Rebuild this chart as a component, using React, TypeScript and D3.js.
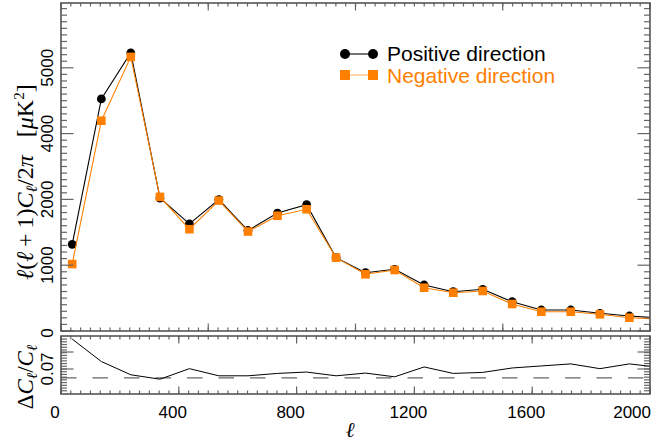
import React from "react";
import * as d3 from "d3";

// multipole bin centres (last one falls just outside the frame and is clipped)
const ell = [38, 137, 237, 336, 436, 536, 635, 735, 834, 934, 1034, 1133, 1233, 1332, 1432, 1532, 1631, 1731, 1830, 1930, 2030];
const positiveDir = [1318, 4527, 5228, 2042, 1629, 1997, 1527, 1792, 1920, 1115, 886, 938, 699, 597, 634, 445, 319, 319, 269, 228, 198];
const negativeDir = [1017, 4196, 5166, 2076, 1547, 1982, 1512, 1751, 1850, 1115, 862, 927, 658, 582, 608, 410, 293, 293, 254, 202, 182];
const deltaRatio = [0.0788, 0.0722, 0.0683, 0.0670, 0.0701, 0.0680, 0.0680, 0.0687, 0.0691, 0.0680, 0.0688, 0.0677, 0.0706, 0.0687, 0.0690, 0.0703, 0.0709, 0.0715, 0.0701, 0.0715, 0.0705];

const xTickValues = [0, 400, 800, 1200, 1600, 2000];
const xTickLabels = ["0", "400", "800", "1200", "1600", "2000"];
const yTickValues = [0, 1000, 2000, 4000, 5000];
const yTickLabels = ["0", "1000", "2000", "4000", "5000"];
const ratioTickValues = [0.07];
const ratioTickLabels = ["0.07"];
const ratioMajorTicks = [0.07, 0.075];
const ratioReference = 0.0674;
const seriesNames = ["Positive direction", "Negative direction"];

const PL = 61, PR = 650;
const T1 = 3, B1 = 331;
const T2 = 336, B2 = 394;
const MAJ = 65.8;
const FRAME = "#555";
const TICK = "#666";
const ORANGE = "#ff8000";

export default function App() {
  const x = d3.scaleLinear().domain([0, 2000]).range([PL, PR]);
  const yDom = [0, 1000, 2000, 4000, 5000, 6000];
  const y = d3.scaleLinear().domain(yDom).range(yDom.map((_, i) => B1 - i * MAJ));
  const yr = d3.scaleLinear().domain([0.062647, 0.079706]).range([B2, T2]);

  const pos = ell.map((l, i) => ({ l, v: positiveDir[i] }));
  const neg = ell.map((l, i) => ({ l, v: negativeDir[i] }));
  const rat = ell.map((l, i) => ({ l, v: deltaRatio[i] }));
  const line = d3.line<{ l: number; v: number }>().x(d => x(d.l)).y(d => y(d.v));
  const lineR = d3.line<{ l: number; v: number }>().x(d => x(d.l)).y(d => yr(d.v));

  const xMinor = d3.range(0, 61).map(i => (i * 2000) / 60);
  const xMajTop = d3.range(0, 2001, 500);
  const xMajBot = xTickValues;

  const yMinor: number[] = [];
  for (let i = 0; i < yDom.length - 1; i++) {
    for (let j = 1; j < 10; j++) {
      const v = yDom[i] + ((yDom[i + 1] - yDom[i]) * j) / 10;
      if (y(v) > T1 + 1) yMinor.push(v);
    }
  }
  const rMinor = d3.range(0, 30).map(k => 0.0628 + k * 0.0008).filter(v => yr(v) > T2 + 1 && yr(v) < B2 - 1);

  const tickLines: JSX.Element[] = [];
  let k = 0;
  const vt = (xx: number, y0: number, len: number) =>
    tickLines.push(<line key={k++} x1={xx} x2={xx} y1={y0} y2={y0 + len} stroke={TICK} strokeWidth={1.2} />);
  const ht = (yy: number, x0: number, len: number) =>
    tickLines.push(<line key={k++} x1={x0} x2={x0 + len} y1={yy} y2={yy} stroke={TICK} strokeWidth={1.2} />);

  xMinor.forEach(v => { vt(x(v), B1, -3.5); vt(x(v), T1, 3.5); });
  xMajTop.forEach(v => { vt(x(v), B1, -7.5); vt(x(v), T1, 7.5); });
  yMinor.forEach(v => { ht(y(v), PL, 6); ht(y(v), PR, -6); });
  yTickValues.forEach(v => { ht(y(v), PL, 12.5); ht(y(v), PR, -12.5); });
  xMinor.forEach(v => { vt(x(v), B2, -3.5); vt(x(v), T2, 3.5); });
  xMajBot.forEach(v => { vt(x(v), B2, -7.5); vt(x(v), T2, 7.5); });
  rMinor.forEach(v => { ht(yr(v), PL, 6); ht(yr(v), PR, -6); });
  ratioMajorTicks.forEach(v => { ht(yr(v), PL, 12.5); ht(yr(v), PR, -12.5); });

  const serif = "'Liberation Serif','DejaVu Serif',serif";

  return (
    <svg width={664} height={442} style={{ position: "absolute", left: 0, top: 0, background: "#fff" }}
      fontFamily="'Liberation Sans', Arial, sans-serif">
      <defs>
        <clipPath id="c1"><rect x={PL} y={T1} width={PR - PL} height={B1 - T1} /></clipPath>
        <clipPath id="c2"><rect x={PL} y={T2} width={PR - PL} height={B2 - T2} /></clipPath>
      </defs>
      <rect x={0} y={0} width={664} height={442} fill="#fff" />

      <g clipPath="url(#c1)">
        <path d={line(pos) || ""} fill="none" stroke="#000" strokeWidth={1.1} />
        {pos.map((d, i) => <circle key={i} cx={x(d.l)} cy={y(d.v)} r={4.4} fill="#000" />)}
        <path d={line(neg) || ""} fill="none" stroke={ORANGE} strokeWidth={1.1} />
        {neg.map((d, i) => <rect key={i} x={x(d.l) - 4.3} y={y(d.v) - 4.3} width={8.6} height={8.6} fill={ORANGE} />)}
      </g>

      <g clipPath="url(#c2)">
        <line x1={PL} x2={PR} y1={yr(ratioReference)} y2={yr(ratioReference)} stroke="#666" strokeWidth={1.2} strokeDasharray="15.5,16" />
        <path d={lineR(rat) || ""} fill="none" stroke="#000" strokeWidth={1} />
      </g>

      {tickLines}
      <rect x={PL} y={T1} width={PR - PL} height={B1 - T1} fill="none" stroke={FRAME} strokeWidth={1.6} />
      <rect x={PL} y={T2} width={PR - PL} height={B2 - T2} fill="none" stroke={FRAME} strokeWidth={1.6} />

      {yTickValues.map((v, i) => (
        <text key={i} transform={`translate(53,${y(v) + (v === 0 ? 2 : 0)}) rotate(-90)`} textAnchor="middle" fontSize={17} fill="#000">{yTickLabels[i]}</text>
      ))}
      {ratioTickValues.map((v, i) => (
        <text key={i} transform={`translate(53,${yr(v)}) rotate(-90)`} textAnchor="middle" fontSize={17} fill="#000">{ratioTickLabels[i]}</text>
      ))}
      {xTickValues.map((v, i) => (
        <text key={i} x={i === xTickValues.length - 1 ? x(v) + 1 : x(v) - 6} y={418}
          textAnchor={i === xTickValues.length - 1 ? "end" : "middle"} fontSize={17} fill="#000">{xTickLabels[i]}</text>
      ))}

      <text transform="translate(33,182) rotate(-90)" textAnchor="middle" fontSize={24} fontFamily={serif} fill="#000">
        <tspan fontStyle="italic">ℓ</tspan>(<tspan fontStyle="italic">ℓ</tspan>{"\u2009+\u20091)"}<tspan fontStyle="italic">C</tspan>
        <tspan fontStyle="italic" fontSize={16} dy={4}>ℓ</tspan><tspan dy={-4}>/2</tspan><tspan fontStyle="italic">π</tspan>
        <tspan>{"\u00a0\u00a0\u00a0["}</tspan><tspan fontStyle="italic">μ</tspan>K<tspan fontSize={15} dy={-9}>2</tspan><tspan dy={9}>]</tspan>
      </text>
      <text transform="translate(33,377) rotate(-90)" textAnchor="middle" fontSize={23} fontFamily={serif} fill="#000">
        Δ<tspan fontStyle="italic">C</tspan><tspan fontStyle="italic" fontSize={15} dy={4}>ℓ</tspan><tspan dy={-4}>/</tspan>
        <tspan fontStyle="italic">C</tspan><tspan fontStyle="italic" fontSize={15} dy={4}>ℓ</tspan>
      </text>
      <text x={350} y={437} textAnchor="middle" fontSize={21} fontFamily={serif} fontStyle="italic" fill="#000">ℓ</text>

      <line x1={345} x2={373} y1={54} y2={54} stroke="#000" strokeWidth={1.1} />
      <circle cx={345} cy={54} r={5} fill="#000" />
      <circle cx={373} cy={54} r={5} fill="#000" />
      <text x={387} y={61} fontSize={21} fill="#000">{seriesNames[0]}</text>
      <line x1={345} x2={373} y1={75} y2={75} stroke={ORANGE} strokeOpacity={0.6} strokeWidth={1.1} />
      <rect x={340} y={70} width={10} height={10} fill={ORANGE} />
      <rect x={368} y={70} width={10} height={10} fill={ORANGE} />
      <text x={387} y={83} fontSize={21} fill={ORANGE}>{seriesNames[1]}</text>
    </svg>
  );
}
